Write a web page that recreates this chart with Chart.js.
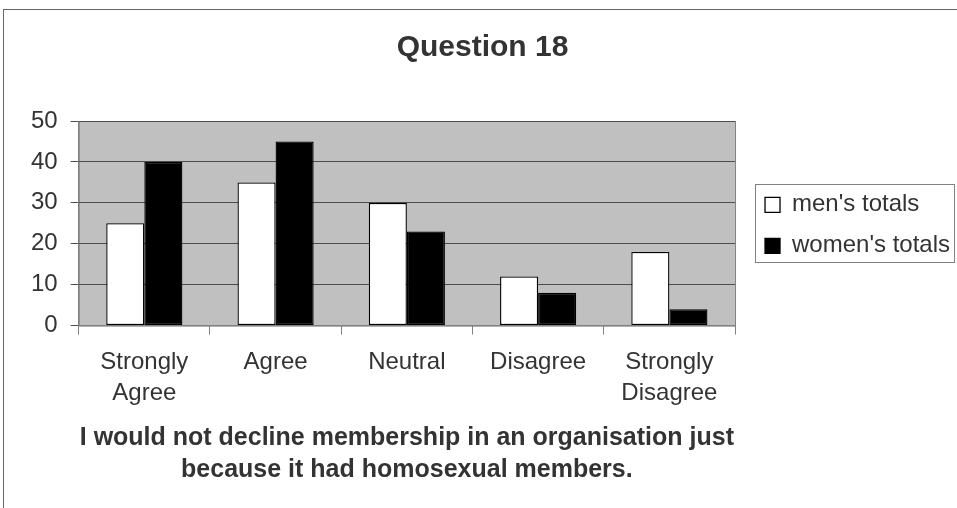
<!DOCTYPE html>
<html>
<head>
<meta charset="utf-8">
<title>Question 18</title>
<script src="https://cdn.jsdelivr.net/npm/chart.js@4"></script>
<style>
  body { margin: 0; background: #fff; }
  #wrap { width: 957px; height: 508px; position: relative; }
</style>
</head>
<body>
<div id="wrap"><canvas id="question18"></canvas></div>
<script>
const categories = [['Strongly', 'Agree'], 'Agree', 'Neutral', 'Disagree', ['Strongly', 'Disagree']];
const mensTotals = [25, 35, 30, 12, 18];
const womensTotals = [40, 45, 23, 8, 4];
const yMax = 50;
const yStep = 10;

const FONT = "'Liberation Sans', Arial, sans-serif";
const TEXT = '#333333';

// grey plot area + outer frame + legend frame
const decorations = {
    id: 'decorations',
    beforeDraw(chart) {
        const ctx = chart.ctx;
        const a = chart.chartArea;
        ctx.save();
        ctx.fillStyle = '#c0c0c0';
        ctx.fillRect(a.left, a.top, a.right - a.left, a.bottom - a.top);
        ctx.strokeStyle = '#808080';
        ctx.lineWidth = 1;
        ctx.strokeRect(a.left + 0.5, a.top + 0.5, a.right - a.left, a.bottom - a.top);
        ctx.strokeStyle = '#666666';
        ctx.strokeRect(3.5, 9.5, 2000, 2000);
        ctx.restore();
    },
    afterLayout(chart) {
        // leave a small gap between plot and legend
        chart.legend.left += 13;
        chart.legend.right += 13;
        chart.legend.top += 2;
        chart.legend.bottom += 2;
    },
    afterDraw(chart) {
        const ctx = chart.ctx;
        const a = chart.chartArea;
        const mid = (a.top + a.bottom) / 2;
        ctx.save();
        ctx.strokeStyle = '#808080';
        ctx.lineWidth = 1;
        ctx.strokeRect(chart.legend.left + 7.5, Math.round(mid - 39) + 0.5, 199, 78);
        ctx.restore();
    }
};

new Chart(document.getElementById('question18'), {
    type: 'bar',
    data: {
        labels: categories,
        datasets: [{
            label: "men's totals",
            data: mensTotals,
            backgroundColor: '#ffffff',
            borderColor: '#000000',
            borderWidth: 1.3,
            borderSkipped: false
        }, {
            label: "women's totals",
            data: womensTotals,
            backgroundColor: '#000000',
            borderColor: '#000000',
            borderWidth: 1.3,
            borderSkipped: false
        }]
    },
    options: {
        responsive: true,
        maintainAspectRatio: false,
        animation: false,
        categoryPercentage: 0.58,
        barPercentage: 1,
        layout: { padding: { left: 18, right: 10, top: 0, bottom: 10 } },
        plugins: {
            tooltip: { enabled: false },
            title: {
                display: true,
                text: 'Question 18',
                color: TEXT,
                font: { family: FONT, size: 30, weight: 'bold', lineHeight: 1.2 },
                padding: { top: 30, bottom: 55 }
            },
            legend: {
                position: 'right',
                fullSize: false,
                align: 'center',
                labels: {
                    color: TEXT,
                    font: { family: FONT, size: 24 },
                    boxWidth: 15,
                    boxHeight: 15,
                    padding: 17
                }
            }
        },
        scales: {
            x: {
                grid: {
                    offset: true,
                    drawOnChartArea: false,
                    drawTicks: true,
                    tickLength: 9,
                    tickColor: '#808080'
                },
                border: { color: '#808080' },
                ticks: {
                    color: TEXT,
                    font: { family: FONT, size: 24, lineHeight: 1.3 },
                    padding: 12,
                    maxRotation: 0,
                    autoSkip: false
                },
                title: {
                    display: true,
                    text: ['I would not decline membership in an organisation just', 'because it had homosexual members.'],
                    color: TEXT,
                    font: { family: FONT, size: 25, weight: 'bold', lineHeight: 1.28 },
                    padding: { top: 1, bottom: 12 }
                }
            },
            y: {
                min: 0,
                max: yMax,
                grid: {
                    color: '#4d4d4d',
                    tickLength: 8,
                    tickColor: '#4d4d4d'
                },
                border: { color: '#808080' },
                ticks: {
                    stepSize: yStep,
                    color: TEXT,
                    font: { family: FONT, size: 24 },
                    padding: 13
                }
            }
        }
    },
    plugins: [decorations]
});
</script>
</body>
</html>
